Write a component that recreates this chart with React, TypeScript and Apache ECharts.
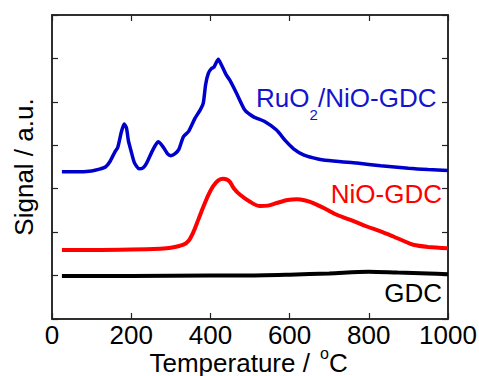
import React, { useEffect, useRef } from "react";
import * as echarts from "echarts";

// Temperature (°C) vs signal (a.u., offset traces)
const ruo2Data: [number, number][] = [
  [25, 3.39], [60, 3.39], [100, 3.41], [120, 3.45], [135, 3.5], [146, 3.62], [159, 3.85],
  [166, 3.95], [175, 4.3], [182, 4.49], [188, 4.4], [193, 4.1], [199, 3.89], [208, 3.6],
  [220, 3.46], [230, 3.48], [239, 3.59], [255, 3.9], [268, 4.08], [280, 3.97], [292, 3.8],
  [300, 3.76], [310, 3.8], [320, 3.9], [332, 4.2], [345, 4.32], [361, 4.62], [374, 4.81],
  [382, 4.97], [388, 5.4], [395, 5.66], [403, 5.77], [409, 5.8], [420, 5.98], [428, 5.85],
  [440, 5.62], [449, 5.5], [466, 5.2], [487, 4.81], [508, 4.66], [538, 4.54], [567, 4.35],
  [590, 4.1], [610, 3.92], [635, 3.78], [660, 3.71], [685, 3.66], [730, 3.62], [770, 3.59],
  [830, 3.53], [900, 3.47], [950, 3.44], [1000, 3.42],
];

const nioData: [number, number][] = [
  [25, 1.59], [100, 1.59], [200, 1.6], [273, 1.62], [300, 1.64], [332, 1.71], [345, 1.8],
  [357, 2.0], [370, 2.3], [382, 2.58], [395, 2.86], [407, 3.06], [420, 3.19], [432, 3.23],
  [442, 3.21], [449, 3.16], [460, 3.0], [475, 2.86], [500, 2.7], [525, 2.6], [545, 2.61],
  [567, 2.67], [595, 2.74], [618, 2.76], [640, 2.73], [660, 2.67], [690, 2.54], [719, 2.4],
  [760, 2.26], [795, 2.13], [830, 2.02], [862, 1.9], [890, 1.79], [912, 1.71], [950, 1.66],
  [1000, 1.63],
];

const gdcData: [number, number][] = [
  [25, 0.99], [200, 0.99], [400, 1.0], [480, 1.0], [600, 1.02], [700, 1.05], [800, 1.09],
  [873, 1.07], [950, 1.05], [1000, 1.03],
];

const xTicks = { min: 0, max: 1000, interval: 200 };
const yTicks = { min: 0, max: 7, interval: 1 };

const FONT = "'Liberation Sans', Arial, sans-serif";

export default function App() {
  const ref = useRef<HTMLDivElement>(null);
  useEffect(() => {
    if (!ref.current) return;
    const chart = echarts.init(ref.current, undefined, { renderer: "svg" });
    const axisLine = { show: true, onZero: false, lineStyle: { color: "#222", width: 1.5 } };
    const axisTick = { show: true, inside: true, length: 6, lineStyle: { color: "#222", width: 1.2 } };
    const txt = (text: string, x: number, y: number, fill: string, fontSize: number, align = "left") => ({
      type: "text",
      x,
      y,
      style: { text, fill, fontSize, fontFamily: FONT, align, verticalAlign: "middle" },
    });
    chart.setOption({
      animation: false,
      grid: {
        left: 52, right: 31, top: 15, bottom: 57,
        containLabel: false, outerBoundsMode: "none",
        show: true, borderColor: "#222", borderWidth: 1.5, backgroundColor: "transparent",
      },
      xAxis: [
        {
          type: "value",
          position: "bottom",
          min: xTicks.min,
          max: xTicks.max,
          interval: xTicks.interval,
          axisLine,
          axisTick,
          splitLine: { show: false },
          axisLabel: {
            color: "#000",
            fontSize: 26,
            fontFamily: FONT,
            margin: 3,
            formatter: (v: number) => String(v),
          },
        },
        {
          type: "value",
          position: "top",
          min: xTicks.min,
          max: xTicks.max,
          interval: xTicks.interval,
          axisLine,
          axisTick,
          splitLine: { show: false },
          axisLabel: { show: false },
        },
      ],
      yAxis: [
        {
          type: "value",
          position: "left",
          min: yTicks.min,
          max: yTicks.max,
          interval: yTicks.interval,
          axisLine,
          axisTick,
          splitLine: { show: false },
          axisLabel: { show: false },
          name: "Signal / a.u.",
          nameLocation: "middle",
          nameGap: 15,
          nameTextStyle: { color: "#000", fontSize: 26, fontFamily: FONT },
        },
        {
          type: "value",
          position: "right",
          min: yTicks.min,
          max: yTicks.max,
          interval: yTicks.interval,
          axisLine,
          axisTick,
          splitLine: { show: false },
          axisLabel: { show: false },
        },
      ],
      series: [
        {
          type: "line",
          data: gdcData,
          showSymbol: false,
          smooth: 0.3,
          lineStyle: { color: "#000", width: 4 },
        },
        {
          type: "line",
          data: nioData,
          showSymbol: false,
          smooth: 0.3,
          lineStyle: { color: "#ff0000", width: 4 },
        },
        {
          type: "line",
          data: ruo2Data,
          showSymbol: false,
          smooth: 0.2,
          lineStyle: { color: "#0000cc", width: 3.5 },
        },
      ],
      graphic: [
        // x-axis title with superscript "o"
        txt("Temperature / ", 149.5, 362.5, "#000", 26),
        txt("o", 320, 353.5, "#000", 16),
        txt("C", 329, 362.5, "#000", 26),
        // series labels
        txt("RuO", 256, 98, "#1414cc", 26),
        txt("2", 309.5, 114.5, "#1414cc", 15),
        txt("/NiO-GDC", 318, 98, "#1414cc", 26),
        txt("NiO-GDC", 442, 193.7, "#ff0000", 26, "right"),
        txt("GDC", 442, 292.7, "#000", 26, "right"),
      ],
    });
    return () => chart.dispose();
  }, []);
  return (
    <div
      ref={ref}
      style={{ position: "fixed", left: 0, top: 0, width: 479, height: 376, background: "#fff" }}
    />
  );
}
